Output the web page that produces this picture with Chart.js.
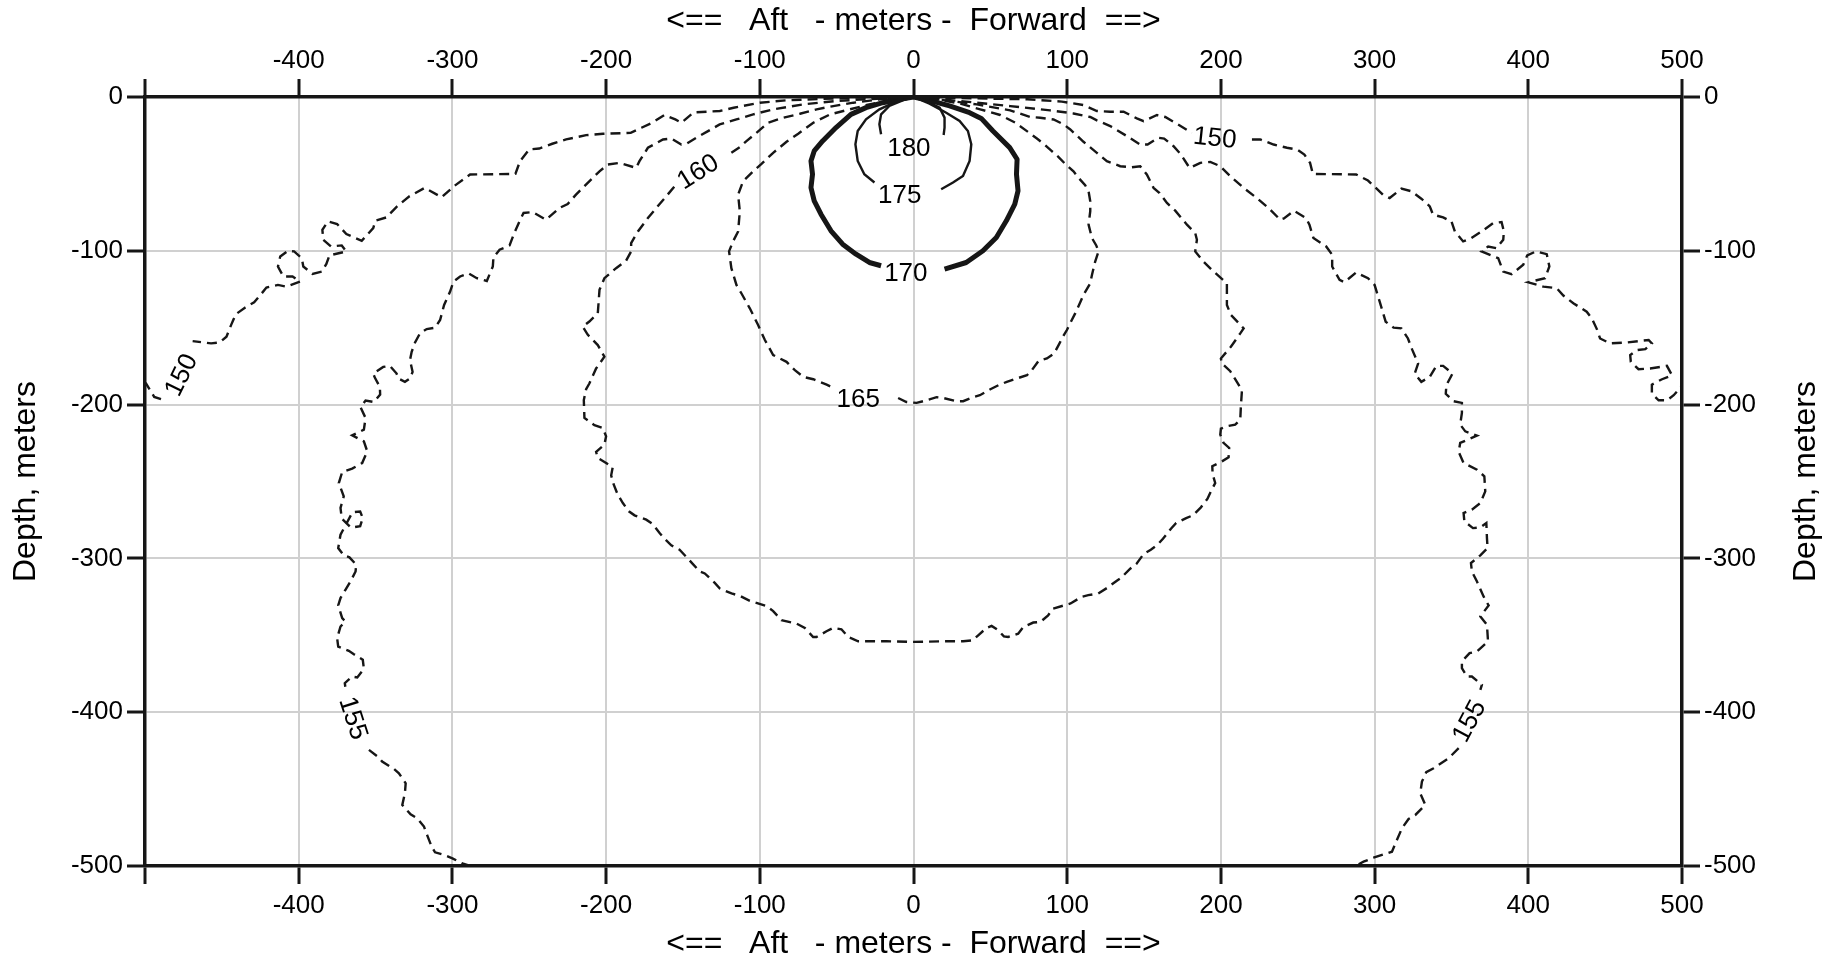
<!DOCTYPE html>
<html>
<head>
<meta charset="utf-8">
<title>Sound level contours</title>
<script src="https://cdn.jsdelivr.net/npm/chart.js@4.4.1/dist/chart.umd.min.js"></script>
<style>
    body { margin: 0; background: #fff; }
    canvas { display: block; }
</style>
</head>
<body>
<canvas id="contours" width="1839" height="964"></canvas>
<script>
// axis ticks (meters)
const X_TICKS = [-500, -400, -300, -200, -100, 0, 100, 200, 300, 400, 500];
const Y_TICKS = [0, -100, -200, -300, -400, -500];

// contour lines as [range, depth] pairs, broken where the level labels sit
const c150aft = [[0,0],[-39,-0.4],[-61,-1.3],[-83,-2.2],[-100,-3.7],[-117,-7],[-126,-9.1],[-143,-10],[-151,-16.7],[-155,-14.6],[-162,-11.7],[-170,-16.7],[-177,-20],[-184,-23.3],[-202,-23.9],[-213,-24.8],[-226,-27.6],[-235,-30.4],[-243.5,-33.5],[-250,-34.1],[-256,-41.7],[-259,-50],[-288.5,-50.4],[-299,-58],[-307,-65.2],[-318,-59.1],[-328,-64.6],[-336,-71.1],[-343,-78.3],[-350,-80.4],[-351.5,-85.2],[-359,-93.5],[-369,-89.1],[-375,-82.6],[-381,-80.9],[-384.6,-86.3],[-384,-92.8],[-379,-97.2],[-372,-96.5],[-369,-100.4],[-380,-103],[-382,-108.5],[-385,-113.5],[-391,-115],[-397,-110.2],[-398,-104.8],[-403,-100.4],[-407,-100],[-412,-103.7],[-413.5,-110.2],[-410,-116.7],[-404,-116.7],[-399,-120],[-408,-123.3],[-413.5,-122.2],[-421,-123.9],[-424,-127.6],[-429,-133.5],[-435,-137],[-441,-141.3],[-444,-148.3],[-447,-155.9],[-451.5,-159.6],[-457,-160.2],[-469,-158.7]];
const c150aftEnd = [[-489.6,-196.5],[-494,-195],[-499.3,-186.3],[-503,-183]];
const c150fwd = [[0,0],[41,-0.9],[74,-1.5],[96.5,-3],[110.6,-5.2],[119.3,-9.1],[128,-9.6],[136.7,-9.6],[145.3,-13.9],[149.7,-15.7],[158.4,-11.7],[163.8,-13],[171.4,-17.4],[181.1,-23.3]];
const c150fwdEnd = [[220.2,-27.6],[225.6,-27.6],[234.3,-30.9],[243,-33],[249.5,-34.1],[254.3,-37.4],[258,-42.8],[259.8,-50],[288,-50.4],[295.7,-54.3],[305.4,-63.5],[309.8,-65.7],[317.4,-59.6],[323.9,-61.3],[330.4,-66.1],[335.9,-71.1],[338,-76.5],[344.6,-78.3],[350,-80.9],[352.2,-87.4],[357.6,-93.9],[363,-91.7],[369.6,-87.4],[377.2,-82],[382.6,-81.3],[384.1,-87.4],[383.7,-92.8],[379.3,-98.3],[373.9,-97.2],[369.6,-100.4],[380.4,-104.8],[383.7,-113.5],[389.1,-115.2],[396.7,-109.1],[399.3,-103],[405,-100.4],[412,-102.2],[413.7,-110.2],[410.9,-117.8],[400,-120.5],[409.8,-123.3],[418.5,-124.3],[422.8,-129.1],[429.3,-134.1],[438,-139.6],[441.3,-143.9],[444.6,-150.9],[446.7,-157],[453.3,-160.2],[464.1,-159.6],[478.3,-158],[480.4,-160.2],[476.1,-163.9],[470.7,-164.6],[466.3,-167.8],[466.7,-172.2],[471.7,-177],[479.3,-176.5],[490.2,-174.8],[493.5,-180.9],[487,-183.5],[480.4,-187],[480.4,-192.8],[484.8,-197.2],[490.2,-197.2],[494.6,-193.9],[499.3,-188.5],[503,-185]];

const c155aft = [[0,0],[-28.3,-1.3],[-50,-2.6],[-71.7,-4.8],[-91.3,-8],[-104.3,-11.3],[-115.2,-14.6],[-126.1,-17.8],[-133.7,-22.2],[-141.3,-26.5],[-147.8,-30.4],[-151.1,-30.9],[-157.6,-27],[-163,-27.6],[-172.8,-33],[-178.3,-41.7],[-180.4,-46.1],[-191.3,-42.8],[-198.9,-43.9],[-204.3,-48.3],[-209.8,-53.7],[-219.6,-63.5],[-225,-69.6],[-230.4,-72.2],[-239.1,-79.8],[-247.8,-74.8],[-253.7,-75.4],[-255.9,-79.8],[-260.2,-89.6],[-262.8,-96.5],[-269.3,-99.3],[-273.3,-104.3],[-273.7,-110.2],[-277.6,-119.6],[-284.1,-117.8],[-289.6,-114.6],[-295,-116.7],[-299.3,-120],[-301.5,-126.5],[-305.4,-135.2],[-308,-145],[-311.3,-150],[-316.7,-150.9],[-321.1,-153.7],[-324.3,-159.6],[-326.5,-165.7],[-327.6,-171.1],[-325.9,-178.7],[-327.6,-183],[-330.9,-185.2],[-335.2,-183],[-336.3,-179.8],[-340.7,-174.8],[-345,-175.5],[-351.5,-179.8],[-350.4,-182.6],[-347.2,-188.5],[-347,-193.5],[-351.1,-198.3],[-356.5,-197.4],[-359.8,-201.7],[-356.5,-208.7],[-357.6,-216.3],[-365.2,-220],[-357.6,-223.9],[-355.4,-230.4],[-358.7,-238],[-365.2,-241.6],[-371.7,-243.8],[-373.9,-251],[-370.7,-259.7],[-372.8,-267.2],[-372,-274],[-366,-280],[-360,-279],[-358.3,-273.8],[-360,-269.5],[-365,-270],[-372.8,-284.6],[-374.3,-293.3],[-370.7,-298],[-367,-299.3],[-362.6,-304.1],[-363,-308.5],[-366.3,-315],[-369.6,-320.4],[-372.8,-325.8],[-374.3,-330.6],[-371.7,-338.8],[-369.6,-341],[-372.8,-344.3],[-375,-351.8],[-374.3,-357.3],[-367.4,-360.1],[-364.1,-362.3],[-358.3,-365.9],[-357.6,-371.8],[-361.9,-377.4],[-365.2,-376.8],[-370,-381.1],[-369.6,-384]];
const c155aftEnd = [[-354.3,-424.5],[-347.8,-429.5],[-345.7,-432.1],[-338,-436.9],[-334.8,-439.7],[-330.4,-446.2],[-330.9,-452.7],[-332.6,-460.3],[-327.2,-466.4],[-322.8,-469],[-318.5,-474.4],[-316.3,-480.3],[-313.5,-487.4],[-311.3,-491.1],[-305.4,-492.8],[-300,-495],[-293.5,-498.3],[-288,-500],[-284,-502]];
const c155fwd = [[0,0],[30.4,-2.6],[62.9,-5.9],[88.9,-8.7],[104.1,-10.7],[115,-13],[119.3,-15.2],[128,-18.9],[138.8,-25.4],[147.5,-30.9],[152.3,-30.9],[159.4,-26.5],[163.1,-27],[169.2,-32],[174,-37.4],[179.6,-46.1],[186.6,-42.8],[193.1,-42.2],[199.6,-45],[206.1,-51.5],[214.8,-59.1],[223.4,-65.7],[231,-72.2],[238.6,-79.8],[241,-79],[247.5,-74],[255.4,-78.7],[257.6,-83],[260.2,-91.7],[268.5,-97.2],[272.4,-102.6],[272.4,-110.2],[277.2,-118.9],[280.4,-120.4],[288,-114.1],[295.7,-117.8],[300,-122.2],[303.3,-133],[307.2,-146.1],[312.4,-150],[317.4,-150.4],[321.7,-157],[324.6,-164.6],[328.3,-173.3],[326.1,-179.8],[330.4,-185.2],[335.9,-182],[340.2,-174.8],[344.6,-174.8],[350.7,-179.8],[346.7,-187.4],[346.3,-193],[351.4,-197.8],[356.8,-198.9],[356.8,-205.4],[355.7,-213],[359,-217.4],[366.6,-220.2],[355.7,-224.9],[354.7,-230.8],[357.9,-238],[366.6,-242.3],[371.4,-246.6],[372,-256.4],[368.8,-264],[363.3,-268.3],[357.9,-270.5],[358.4,-275.9],[364,-280.3],[368.8,-279.8],[372.7,-277],[373.1,-286.8],[373.5,-293.3],[368.8,-298],[362.7,-303],[363.3,-308.5],[366.6,-315],[370.9,-324.7],[374.2,-330.6],[368.8,-337.7],[373.1,-343.2],[373.8,-354],[366.6,-360.5],[361.8,-361.6],[356.8,-367],[356.8,-371.4],[360.1,-376.8],[363.3,-376.8],[369.8,-382.2],[368.8,-385.5]];
const c155fwdEnd = [[354.7,-423.4],[348.2,-429.9],[338.4,-436.4],[333.6,-439],[330.8,-445.1],[329.7,-452.7],[333,-460.3],[326.5,-466.8],[322.1,-469.4],[317.8,-475.5],[314.5,-483.1],[311.3,-490.7],[304.8,-492.8],[299.3,-494.6],[292.8,-497.2],[287.4,-500],[283,-502]];

const c160 = [[-118.5,-36.3],[-113,-32.6],[-108.7,-28.7],[-102.2,-23.3],[-94.6,-16.7],[-84.8,-13.5],[-73.9,-10.9],[-63,-8],[-52.2,-5.9],[-39.1,-3.7],[-21.7,-1.5],[0,0],[19.5,-2],[41.2,-4.8],[62.9,-8.7],[75.9,-13],[82.4,-13.5],[91.1,-14.6],[97.6,-17.8],[102,-21.1],[107.4,-26.1],[110.6,-29.1],[119.3,-36.3],[125.8,-41.7],[134.5,-45],[142.1,-45.7],[147.5,-45],[151.8,-50.4],[156.2,-59.1],[160.1,-62.4],[164.9,-68.9],[170.3,-73.9],[177.9,-83],[183.3,-88.5],[184.4,-92.8],[183.3,-100.4],[188.7,-107],[194.1,-112.4],[203.9,-121.1],[203.9,-126.5],[203.9,-135.2],[206.5,-141.7],[214.8,-150.4],[212.6,-153.7],[206.5,-162.4],[200,-170],[200.7,-173.3],[206.1,-178.3],[210.4,-185.2],[213.7,-190.7],[213,-201.1],[212.6,-209.8],[209.3,-213],[203.9,-214.1],[200,-215.6],[199.6,-219.5],[201.7,-224.9],[205.4,-228.2],[205,-234.3],[200.7,-236.9],[194.4,-240.1],[194.6,-245.1],[196.3,-251],[193.5,-256.4],[191.3,-261.2],[187,-266.8],[181.8,-272],[177.4,-273.8],[170.9,-277],[167.5,-280.7],[162.3,-287.2],[158.8,-291.1],[154.4,-294.4],[149.7,-297.2],[144.9,-303.7],[141,-306.7],[134.9,-312.8],[132.3,-314.5],[125.8,-319.3],[120.2,-322.8],[113.7,-323.9],[109.3,-325],[102.2,-329.3],[98.5,-330.4],[90.9,-332.6],[87.6,-337],[82.6,-341.3],[77.9,-341.7],[71.4,-344.6],[68.1,-348.9],[61.6,-351.1],[58.8,-350.7],[55.1,-346.7],[50.8,-343.9],[47.5,-345.2],[42.1,-350],[38.4,-353.3],[32.3,-353.9],[19.3,-353.9],[0,-354.3],[-17.6,-353.9],[-36,-353.9],[-42.5,-351.1],[-46.9,-346.1],[-52.3,-345.2],[-56.6,-347.4],[-63.1,-351.1],[-65.3,-351.1],[-70.7,-345.2],[-76.1,-342.4],[-85.9,-340.2],[-91.3,-334.3],[-95.7,-330.9],[-106.5,-327.6],[-113,-324.3],[-118.4,-322.8],[-126,-319.6],[-129.3,-315.9],[-135.8,-309.8],[-139.1,-308.5],[-143.5,-303.7],[-146.7,-300.2],[-152.2,-294.4],[-157.6,-291.5],[-162,-287.2],[-165.2,-283.5],[-169.6,-277.7],[-173.9,-274.8],[-181.5,-272],[-185.2,-269.4],[-189.1,-264],[-192.4,-258.6],[-195.2,-251.6],[-196.7,-246],[-195.7,-240.8],[-200,-238],[-205.4,-234.7],[-206.5,-230.8],[-201.1,-226],[-200,-220.6],[-202.2,-215.2],[-207.6,-213.4],[-214.1,-208.7],[-214.5,-197],[-213,-190],[-210.9,-186.3],[-206.5,-176.5],[-201.1,-168.9],[-205.4,-161.3],[-212,-154.5],[-215.2,-149.3],[-210.9,-146],[-205.4,-140.6],[-204.3,-125.4],[-201.1,-117.8],[-193.5,-111.3],[-187,-106.5],[-183.7,-100.4],[-183.7,-95],[-179.3,-87.4],[-172.8,-78.7],[-167.4,-72.2],[-160.9,-64.6],[-155.4,-58]];

const c165 = [[-10,-195.7],[-4.6,-198.3],[2,-198.9],[6.3,-197.8],[15,-195.2],[19.3,-195.7],[28,-197.8],[32.3,-197.8],[38.8,-195.2],[43.2,-193.9],[49.7,-190.2],[55.3,-187.4],[60.7,-185.2],[67.2,-183],[73.8,-180.9],[77,-177.6],[81.3,-171.7],[86.8,-170],[91.5,-166.7],[94.4,-161.3],[97.2,-155.9],[99.8,-151.5],[103,-145],[105.2,-140.7],[108.5,-133.5],[110.6,-128.7],[115,-121.1],[116.1,-115.7],[118.2,-107],[120.4,-100.4],[118.9,-96.5],[116.1,-91.7],[113.9,-83],[115,-74.3],[115,-67.8],[113.9,-61.3],[111.7,-57.4],[107.4,-52.6],[104.1,-48.3],[98.7,-43.5],[94.4,-39.1],[90,-35.2],[85.7,-31.3],[80.3,-27],[73.8,-22.2],[66.2,-16.7],[56.4,-11.7],[43.4,-8],[30.4,-4.3],[15.2,-1.5],[0,0],[-17.4,-2.6],[-30.4,-5.2],[-41.3,-8],[-54.3,-11.3],[-65.2,-16.7],[-75,-23.9],[-82.6,-29.1],[-91.3,-36.3],[-98.9,-43.5],[-104.3,-48.3],[-110.9,-54.8],[-114.1,-63.5],[-113,-74.3],[-114.1,-87.4],[-117.4,-93.9],[-120,-100.4],[-118.5,-111.3],[-115.2,-122.2],[-112,-127.6],[-106.5,-137.4],[-101.1,-148.3],[-96.7,-158],[-91.3,-167.8],[-82.6,-172.2],[-77.2,-177.6],[-71.7,-182],[-65.2,-183.5],[-56.5,-187],[-51.1,-189.6]];

const c170 = [[-21.1,-109.7],[-28.7,-107.6],[-37.4,-102.2],[-46.1,-95.7],[-53.7,-87],[-60.2,-76.2],[-64.6,-67.5],[-66.7,-58.9],[-65.7,-50.2],[-66.7,-41.6],[-64.6,-35.1],[-59.1,-28.6],[-50.4,-19.9],[-40.7,-11.3],[-30.9,-6.9],[-20,-3.7],[-9.1,-1.5],[0,0],[10.4,-2.2],[23.5,-5.8],[36.5,-10.2],[44.1,-13.9],[51.7,-22.1],[62.6,-32.9],[67.4,-40.5],[67,-50.2],[68,-61],[65.9,-69.7],[60.4,-80.5],[53.9,-91.3],[45.2,-100],[34.3,-107.6],[20.2,-111.9]];
const c175 = [[-25.4,-55.6],[-32,-50.2],[-36.3,-41.6],[-37.8,-30.7],[-36.3,-22.1],[-30.9,-14.5],[-22.2,-8],[-11.3,-3],[0,0],[10.4,-4.3],[21.3,-10.2],[30,-15.6],[35.4,-22.1],[37.6,-30.7],[36.5,-41.6],[32.2,-51.3],[25.7,-55.6],[18,-60]];
const c180 = [[-21.1,-24.2],[-22.2,-17.7],[-21.1,-11.3],[-15.7,-5.8],[-7,-2.2],[0,0],[8.3,-2.6],[17,-6.9],[20.2,-13.4],[20.2,-19.9],[19.6,-24.7]];

// level labels and where they sit (data units)
const labelText = ['150', '150', '155', '155', '160', '165', '170', '175', '180'];
const labelX = [-476, 196, -365, 362, -140, -36, -5, -9, -3];
const labelY = [-181, -27, -404, -406, -49, -197, -115, -64, -34];

const FONT = '"Liberation Sans", Arial, Helvetica, sans-serif';
const INK = '#161616';
const GRID = '#d0d0d0';

window.onload = function () {
    initChart();
}

function pts(arr) {
    return arr.map(function (p) { return { x: p[0], y: p[1] }; });
}

function line(arr, style) {
    var ds = {
        data: pts(arr),
        showLine: true,
        pointRadius: 0,
        borderColor: INK,
        borderWidth: 2.4,
        tension: 0,
        fill: false
    };
    if (style === 'dash') {
        ds.borderDash = [10, 6];
    } else if (style === 'bold') {
        ds.borderWidth = 5;
        ds.borderJoinStyle = 'round';
    }
    return ds;
}

// rotation of each label in degrees
const labelAngle = [-64, 6, 72, -62, -32, 0, 0, 0, 0];

const contourLabels = {
    id: 'contourLabels',
    afterDatasetsDraw(chart) {
        var ctx = chart.ctx;
        var xs = chart.scales.x;
        var ys = chart.scales.y;
        ctx.save();
        ctx.font = '26px ' + FONT;
        ctx.fillStyle = '#000';
        ctx.textAlign = 'center';
        ctx.textBaseline = 'middle';
        for (var i = 0; i < labelText.length; i++) {
            ctx.save();
            ctx.translate(xs.getPixelForValue(labelX[i]), ys.getPixelForValue(labelY[i]));
            ctx.rotate(labelAngle[i] * Math.PI / 180);
            ctx.fillText(labelText[i], 0, 0);
            ctx.restore();
        }
        ctx.restore();
    }
};

// Chart.js turns a right hand title the other way, so draw it here
const rightTitle = {
    id: 'rightTitle',
    afterDraw(chart) {
        var ctx = chart.ctx;
        var s = chart.scales.y2;
        var a = chart.chartArea;
        ctx.save();
        ctx.translate(s.right - 33, (a.top + a.bottom) / 2);
        ctx.rotate(-Math.PI / 2);
        ctx.font = '32px ' + FONT;
        ctx.fillStyle = '#000';
        ctx.textAlign = 'center';
        ctx.textBaseline = 'middle';
        ctx.fillText('Depth, meters', 0, 0);
        ctx.restore();
    }
};

function xAxis(pos, size) {
    return {
        type: 'linear',
        position: pos,
        min: -500,
        max: 500,
        afterBuildTicks: function (s) { s.ticks = X_TICKS.map(function (v) { return { value: v }; }); },
        afterFit: function (s) { s.height = size; },
        ticks: {
            color: '#000',
            font: { family: FONT, size: 26 },
            padding: pos === 'top' ? 3 : 6,
            maxRotation: 0,
            autoSkip: false,
            callback: function (v) { return v === -500 ? '' : String(v); }
        },
        grid: {
            color: GRID,
            lineWidth: 2,
            drawOnChartArea: pos === 'bottom',
            tickColor: INK,
            tickWidth: 3,
            tickLength: 18
        },
        border: { color: INK, width: 3.5, z: 1 },
        title: {
            display: true,
            text: '<==   Aft   - meters -  Forward  ==>',
            color: '#000',
            font: { family: FONT, size: 32 },
            padding: pos === 'top' ? { top: 2, bottom: 0 } : { top: 0, bottom: 1 }
        }
    };
}

function yAxis(pos, size) {
    return {
        type: 'linear',
        position: pos,
        min: -500,
        max: 0,
        afterBuildTicks: function (s) { s.ticks = Y_TICKS.map(function (v) { return { value: v }; }); },
        afterFit: function (s) { s.width = size; },
        ticks: {
            color: '#000',
            font: { family: FONT, size: 26 },
            padding: 4,
            autoSkip: false,
            callback: function (v) { return String(v); }
        },
        grid: {
            color: GRID,
            lineWidth: 2,
            drawOnChartArea: pos === 'left',
            tickColor: INK,
            tickWidth: 3,
            tickLength: 18
        },
        border: { color: INK, width: 3.5, z: 1 },
        title: {
            display: pos === 'left',
            text: 'Depth, meters',
            color: '#000',
            font: { family: FONT, size: 32 },
            padding: { top: 7, bottom: 0 }
        }
    };
}

function initChart() {
    var ctx = document.getElementById('contours');
    new Chart(ctx, {
        type: 'scatter',
        data: {
            datasets: [
                line(c150aft, 'dash'), line(c150aftEnd, 'dash'),
                line(c150fwd, 'dash'), line(c150fwdEnd, 'dash'),
                line(c155aft, 'dash'), line(c155aftEnd, 'dash'),
                line(c155fwd, 'dash'), line(c155fwdEnd, 'dash'),
                line(c160, 'dash'),
                line(c165, 'dash'),
                line(c170, 'bold'),
                line(c175, 'thin'),
                line(c180, 'thin')
            ]
        },
        options: {
            responsive: false,
            animation: false,
            layout: { padding: 0 },
            plugins: {
                legend: { display: false },
                tooltip: { enabled: false }
            },
            scales: {
                x: xAxis('bottom', 98),
                x2: xAxis('top', 97),
                y: yAxis('left', 145),
                y2: yAxis('right', 157)
            }
        },
        plugins: [contourLabels, rightTitle]
    });
}
</script>
</body>
</html>
